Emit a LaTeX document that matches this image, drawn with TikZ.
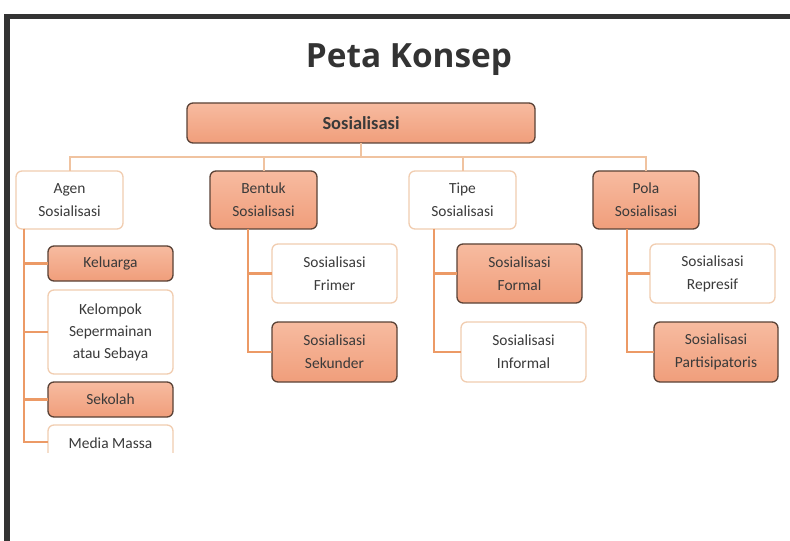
\documentclass[tikz,border=0pt]{standalone}
\usepackage{fontspec}
\setmainfont{Carlito}
\newfontfamily\titlefont{Open Sans}
\usetikzlibrary{calc}
\definecolor{framegray}{HTML}{333333}
\definecolor{salmonA}{HTML}{F7BBA0}
\definecolor{salmonB}{HTML}{F09E7B}
\definecolor{darkedge}{HTML}{5A4236}
\definecolor{lightedge}{HTML}{F1CDB0}
\definecolor{linkA}{HTML}{F0C3A0}
\definecolor{linkB}{HTML}{EC9A66}
\definecolor{txt}{HTML}{3A3A3A}
\tikzset{
  basebox/.style={rounded corners=6bp, align=center, inner sep=0pt, outer sep=0pt,
    text=txt, font=\fontsize{15.5}{23}\selectfont},
  hotbox/.style={basebox, draw=darkedge, line width=1.3bp, top color=salmonA, bottom color=salmonB},
  coolbox/.style={basebox, draw=lightedge, line width=1.3bp, fill=white},
  toplink/.style={draw=linkA, line width=2bp},
  sublink/.style={draw=linkB, line width=2.6bp}
}
\begin{document}
\begin{tikzpicture}[x=1bp,y=-1bp]
\useasboundingbox (0,0) rectangle (790,541);
\fill[white] (0,0) rectangle (790,541);
\draw[framegray, line width=5.5bp] (7,541) -- (7,16.5) -- (790,16.5);

\node[font=\titlefont\bfseries\fontsize{33.5}{38}\selectfont, text=framegray] (title) at (409,60) {Peta Konsep};

\node[hotbox, minimum width=348bp, minimum height=40bp, font=\bfseries\fontsize{18.5}{22}\selectfont] (root) at (361,123) {Sosialisasi};

\node[coolbox, minimum width=107bp, minimum height=58bp] (agen) at (69.5,200) {Agen\\Sosialisasi};
\node[hotbox, minimum width=107bp, minimum height=58bp] (bentuk) at (263.5,200) {Bentuk\\Sosialisasi};
\node[coolbox, minimum width=107bp, minimum height=58bp] (tipe) at (462.5,200) {Tipe\\Sosialisasi};
\node[hotbox, minimum width=106bp, minimum height=58bp] (pola) at (646,200) {Pola\\Sosialisasi};

\coordinate (bus) at (361,157);
\draw[toplink] (root.south) -- (root.south |- bus);
\draw[toplink] (agen.north) -- (agen.north |- bus) -- (pola.north |- bus) -- (pola.north);
\draw[toplink] (bentuk.north) -- (bentuk.north |- bus);
\draw[toplink] (tipe.north) -- (tipe.north |- bus);

% Agen children
\node[hotbox, minimum width=125bp, minimum height=35bp] (kel) at (110.5,263.5) {Keluarga};
\node[coolbox, minimum width=125bp, minimum height=84bp, font=\fontsize{15.5}{22}\selectfont] (kelompok) at (110.5,332) {Kelompok\\Sepermainan\\atau Sebaya};
\node[hotbox, minimum width=125bp, minimum height=35bp] (sek) at (110.5,399.5) {Sekolah};
\begin{scope}
\clip (0,0) rectangle (790,452);
\node[coolbox, minimum width=125bp, minimum height=50bp, text depth=0pt] (media) at (110.5,450) {};
\node[basebox, anchor=base] (medialabel) at (110.5,448) {Media Massa};
\end{scope}
\coordinate (a0) at ($(agen.south west)+(8,0)$);
\draw[sublink] (a0) |- (kel.west);
\draw[sublink] (a0) |- (kelompok.west);
\draw[sublink] (a0) |- (sek.west);
\draw[sublink] (a0) |- (media.north west |- 0,442) coordinate (m0);

% Bentuk children
\node[coolbox, minimum width=125bp, minimum height=59bp] (frimer) at (334.5,273.5) {Sosialisasi\\Frimer};
\node[hotbox, minimum width=125bp, minimum height=60bp] (sekunder) at (334.5,352) {Sosialisasi\\Sekunder};
\coordinate (b0) at (248,229);
\draw[sublink] (b0) |- (frimer.west);
\draw[sublink] (b0) |- (sekunder.west);

% Tipe children
\node[hotbox, minimum width=125bp, minimum height=59bp] (formal) at (519.5,273.5) {Sosialisasi\\Formal};
\node[coolbox, minimum width=125bp, minimum height=60bp] (informal) at (523.5,352) {Sosialisasi\\Informal};
\coordinate (t0) at (434,229);
\draw[sublink] (t0) |- (formal.west);
\draw[sublink] (t0) |- (informal.west);

% Pola children
\node[coolbox, minimum width=125bp, minimum height=59bp] (represif) at (712.5,273.5) {Sosialisasi\\Represif};
\node[hotbox, minimum width=124bp, minimum height=60bp] (partisipatoris) at (716,352) {Sosialisasi\\Partisipatoris};
\coordinate (p0) at (627,229);
\draw[sublink] (p0) |- (represif.west);
\draw[sublink] (p0) |- (partisipatoris.west);
\end{tikzpicture}
\end{document}
